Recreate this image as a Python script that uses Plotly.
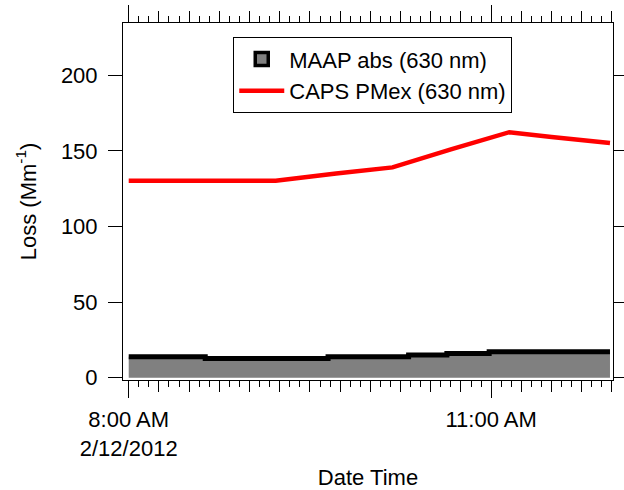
import plotly.graph_objects as go

# ---- data ----
maap_time = ["2012-02-12 08:00", "2012-02-12 08:38", "2012-02-12 09:39",
             "2012-02-12 10:19", "2012-02-12 10:38", "2012-02-12 10:59",
             "2012-02-12 11:59"]
maap_abs = [13.9, 12.7, 13.9, 15.0, 16.1, 17.2, 17.2]

caps_time = ["2012-02-12 08:00", "2012-02-12 09:13", "2012-02-12 09:43",
             "2012-02-12 10:11", "2012-02-12 10:40", "2012-02-12 11:09",
             "2012-02-12 11:30", "2012-02-12 11:59"]
caps_pmex = [130.3, 130.3, 135.0, 139.1, 151.0, 162.4, 159.2, 155.3]

x_tick_vals = ["2012-02-12 08:00", "2012-02-12 11:00"]
x_tick_text = ["8:00 AM<br>2/12/2012", "11:00 AM"]
y_tick_vals = [0, 50, 100, 150, 200]

x_range = ["2012-02-12 07:57:10", "2012-02-12 12:00:30"]
y_range = [-1.5, 234.6]

FONT = "Liberation Sans, Arial, sans-serif"
FS = 22

fig = go.Figure()

fig.add_trace(go.Scatter(
    x=maap_time, y=maap_abs, mode="lines", line_shape="hv",
    line=dict(color="black", width=5), fill="tozeroy", fillcolor="#808080",
    showlegend=False, hoverinfo="skip"))

fig.add_trace(go.Scatter(
    x=caps_time, y=caps_pmex, mode="lines",
    line=dict(color="#ff0000", width=4.5), showlegend=False))

# legend entries
fig.add_trace(go.Scatter(
    x=[None], y=[None], mode="markers", name="MAAP abs (630 nm)",
    marker=dict(symbol="square", size=13, color="#808080",
                line=dict(color="black", width=3.5))))
fig.add_trace(go.Scatter(
    x=[None], y=[None], mode="lines", name="CAPS PMex (630 nm)",
    line=dict(color="#ff0000", width=4.5)))

# invisible trace on second x-axis for long major ticks + labels
fig.add_trace(go.Scatter(x=[x_range[0]], y=[None], xaxis="x2",
                         showlegend=False, hoverinfo="skip"))

fig.update_layout(
    width=624, height=490,
    margin=dict(l=123, r=11, t=23, b=110, autoexpand=False),
    paper_bgcolor="white", plot_bgcolor="white",
    font=dict(family=FONT, size=FS, color="black"),
    showlegend=True,
    legend=dict(x=0.225, y=0.96, xanchor="left", yanchor="top",
                bordercolor="black", borderwidth=1, bgcolor="white",
                font=dict(size=FS), tracegroupgap=0, itemwidth=45),
    xaxis=dict(
        type="date", range=x_range, showgrid=False, zeroline=False,
        automargin=False,
        showline=True, linecolor="black", linewidth=1, mirror="allticks",
        tickmode="linear", tick0="2012-02-12 08:00", dtick=15 * 60 * 1000,
        ticks="outside", ticklen=11, tickwidth=1, tickcolor="black",
        showticklabels=False,
        minor=dict(tick0="2012-02-12 08:00", dtick=5 * 60 * 1000,
                   ticks="outside", ticklen=6, tickwidth=1, tickcolor="black",
                   showgrid=False),
    ),
    xaxis2=dict(
        type="date", range=x_range, overlaying="x", anchor="y", side="bottom",
        automargin=False,
        showgrid=False, zeroline=False, showline=False, mirror="allticks",
        tickmode="array", tickvals=x_tick_vals, ticktext=x_tick_text,
        ticks="outside", ticklen=17, tickwidth=1, tickcolor="black",
        ticklabelstandoff=3,
        title=dict(text="Date Time", standoff=13, font=dict(size=FS)),
    ),
    yaxis=dict(
        range=y_range, showgrid=False, zeroline=False, automargin=False,
        showline=True, linecolor="black", linewidth=1, mirror="allticks",
        tickmode="array", tickvals=y_tick_vals,
        ticks="outside", ticklen=14, tickwidth=1, tickcolor="black",
        ticklabelstandoff=6,
        title=dict(text="Loss (Mm<sup>-1</sup>)", standoff=18,
                   font=dict(size=FS)),
    ),
)

fig.write_html("out.html")
